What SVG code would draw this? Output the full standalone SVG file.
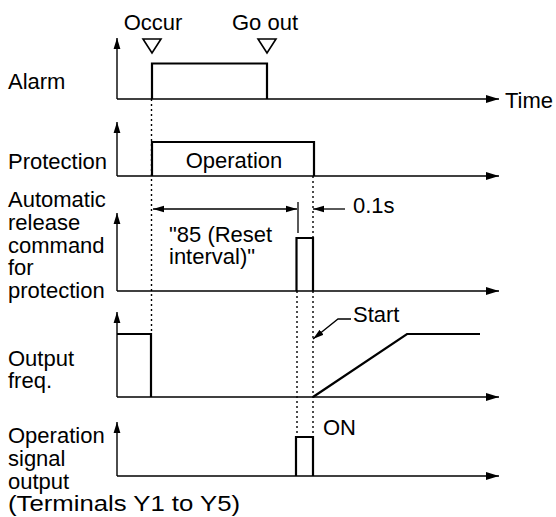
<svg xmlns="http://www.w3.org/2000/svg" width="556" height="517" viewBox="0 0 556 517">
<style>
text{font-family:"Liberation Sans",Arial,Helvetica,sans-serif;font-size:22px;fill:#000}
.ax{fill:none;stroke:#000;stroke-width:1.4}
.sig{fill:none;stroke:#000;stroke-width:2.2;stroke-linejoin:miter}
.dot{fill:none;stroke:#000;stroke-width:1.4;stroke-dasharray:2 3}
.thin{fill:none;stroke:#000;stroke-width:1.3}
.tri{fill:none;stroke:#000;stroke-width:1.6}
</style>
<defs>
<marker id="ah" markerUnits="userSpaceOnUse" markerWidth="14" markerHeight="10" refX="13" refY="5" orient="auto"><path d="M0,1 L13,5 L0,9 Z" fill="#000"/></marker>
<marker id="au" markerUnits="userSpaceOnUse" markerWidth="12" markerHeight="8" refX="11" refY="4" orient="auto"><path d="M0,0.6 L11,4 L0,7.4 Z" fill="#000"/></marker>
<marker id="ad" markerUnits="userSpaceOnUse" markerWidth="12" markerHeight="8" refX="11" refY="4" orient="auto"><path d="M0,0.8 L11,4 L0,7.2 Z" fill="#000"/></marker>
</defs>
<rect width="556" height="517" fill="#fff"/>

<g id="alarm">
<text x="8" y="89">Alarm</text>
<line class="ax" x1="117" y1="99" x2="117" y2="38" marker-end="url(#au)"/>
<line class="ax" x1="117" y1="99" x2="499" y2="99" marker-end="url(#ah)"/>
<polyline class="sig" points="152,99 152,63.5 267,63.5 267,99"/>
<text x="505" y="108">Time</text>
<text x="153" y="30" text-anchor="middle">Occur</text>
<polygon class="tri" points="143,39 161,39 152,53"/>
<text x="265" y="30" text-anchor="middle">Go out</text>
<polygon class="tri" points="258,39 276,39 267,53"/>
</g>

<g id="protection">
<text x="8" y="169">Protection</text>
<line class="ax" x1="117" y1="176" x2="117" y2="122" marker-end="url(#au)"/>
<line class="ax" x1="117" y1="176" x2="499" y2="176" marker-end="url(#ah)"/>
<polyline class="sig" points="152,176 152,142 314,142 314,176"/>
<text x="234" y="168" text-anchor="middle">Operation</text>
</g>

<g id="release">
<text x="8" y="207">Automatic</text>
<text x="8" y="230">release</text>
<text x="8" y="252.5">command</text>
<text x="8" y="275">for</text>
<text x="8" y="298">protection</text>
<line class="ax" x1="117" y1="291" x2="117" y2="213" marker-end="url(#au)"/>
<line class="ax" x1="117" y1="291" x2="499" y2="291" marker-end="url(#ah)"/>
<polyline class="sig" points="296.5,291 296.5,238 313,238 313,291"/>
<text x="169" y="242">"85 (Reset</text>
<text x="169" y="264">interval)"</text>
<text x="353" y="213">0.1s</text>
</g>

<g id="output-freq">
<text x="8" y="366">Output</text>
<text x="8" y="388">freq.</text>
<line class="ax" x1="117" y1="397" x2="117" y2="312" marker-end="url(#au)"/>
<line class="ax" x1="117" y1="397" x2="499" y2="397" marker-end="url(#ah)"/>
<polyline class="sig" points="117,334 151,334 151,397"/>
<polyline class="sig" points="313,397 407,334 480,334"/>
<text x="353" y="322">Start</text>
</g>

<g id="operation-signal">
<text x="8" y="443">Operation</text>
<text x="8" y="466">signal</text>
<text x="8" y="489">output</text>
<text x="8" y="511" textLength="232" lengthAdjust="spacingAndGlyphs">(Terminals Y1 to Y5)</text>
<line class="ax" x1="117" y1="476" x2="117" y2="422" marker-end="url(#au)"/>
<line class="ax" x1="117" y1="476" x2="499" y2="476" marker-end="url(#ah)"/>
<polyline class="sig" points="296,476 296,437 313,437 313,476"/>
<text x="323" y="435">ON</text>
</g>

<g id="connectors">
<line class="dot" x1="151.5" y1="99" x2="151.5" y2="334"/>
<line class="dot" x1="313" y1="176" x2="313" y2="437"/>
<line class="dot" x1="297" y1="291" x2="297" y2="437"/>
<line class="thin" x1="298" y1="202" x2="298" y2="233"/>
<line class="thin" x1="225" y1="209" x2="153" y2="209" marker-end="url(#ad)"/>
<line class="thin" x1="225" y1="209" x2="297" y2="209" marker-end="url(#ad)"/>
<line class="thin" x1="345" y1="209" x2="313" y2="209" marker-end="url(#ad)"/>
<polyline class="thin" points="351,319 338,319 313,339" marker-end="url(#ad)"/>
</g>
</svg>
